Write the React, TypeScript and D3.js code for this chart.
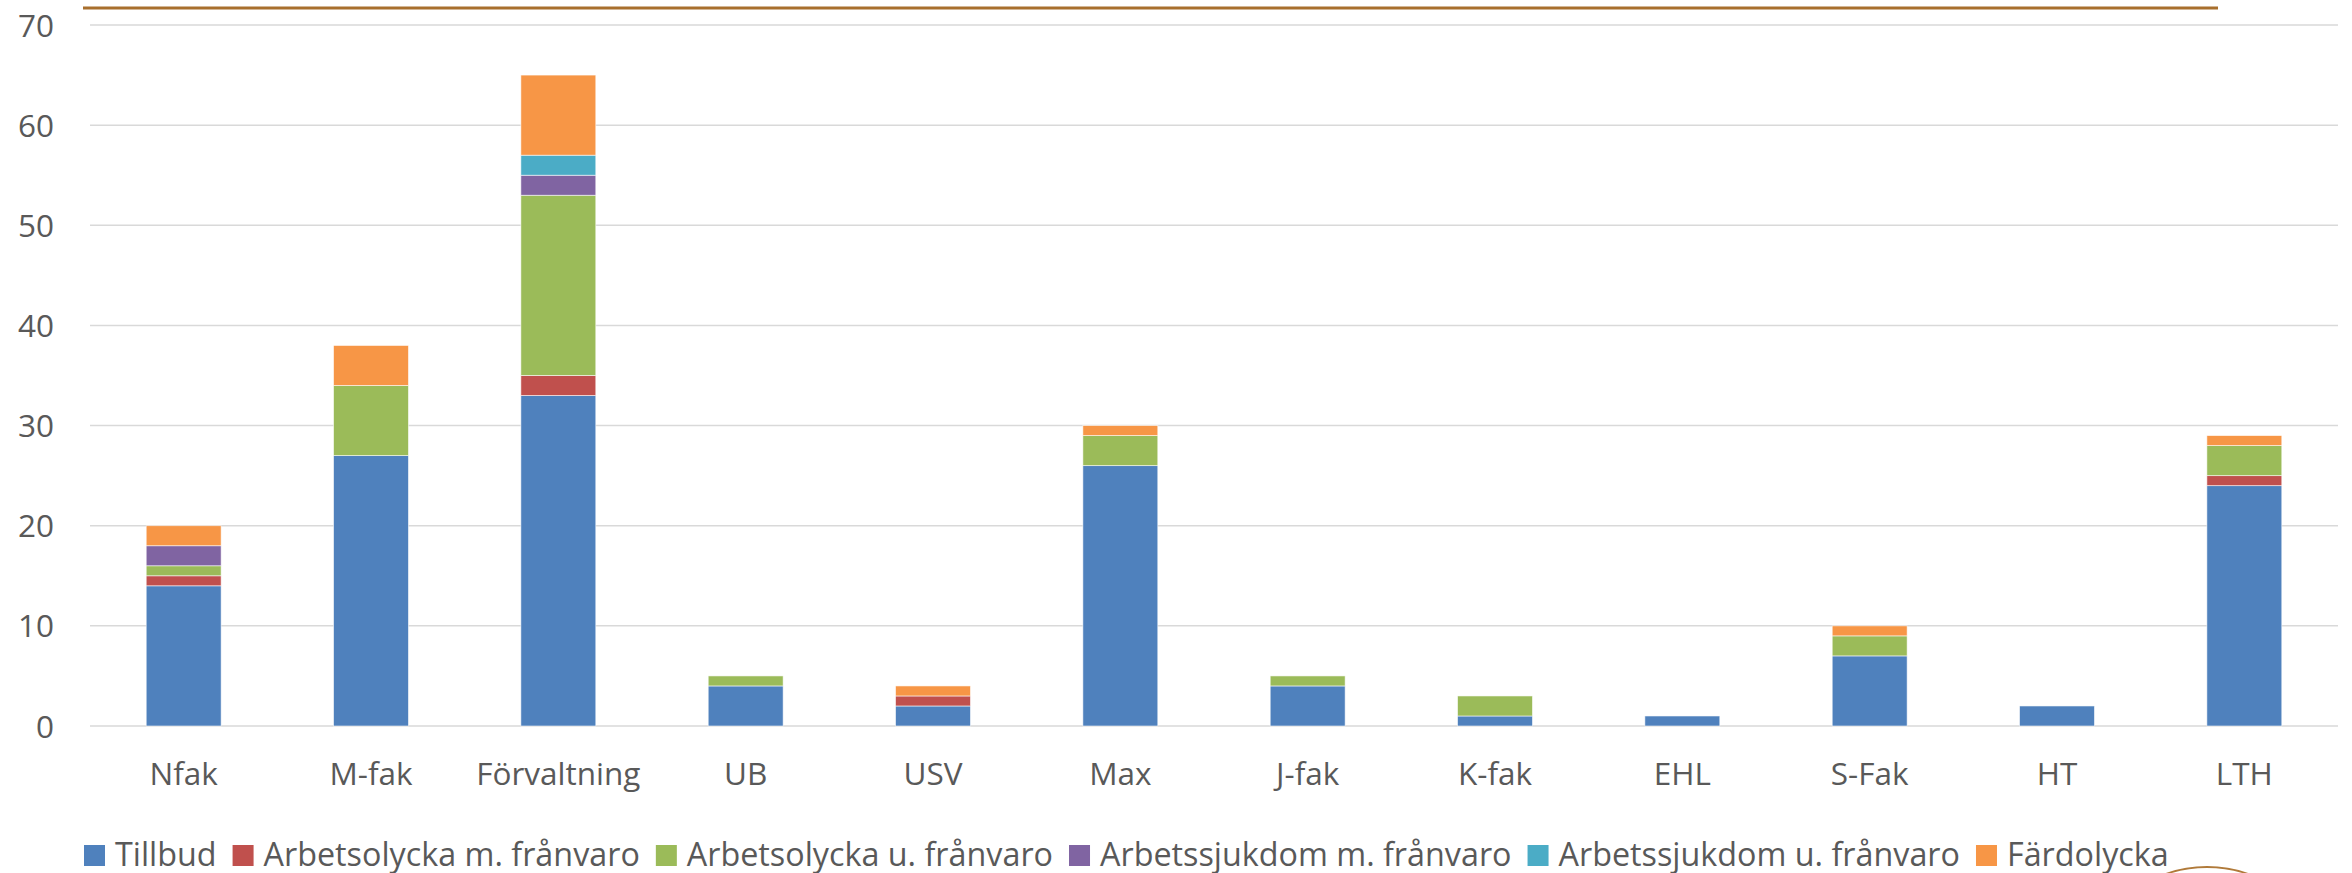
import React, { useRef, useEffect } from "react";
import * as d3 from "d3";

const categories = ["Nfak", "M-fak", "Förvaltning", "UB", "USV", "Max", "J-fak", "K-fak", "EHL", "S-Fak", "HT", "LTH"];
const seriesNames = [
  "Tillbud",
  "Arbetsolycka m. frånvaro",
  "Arbetsolycka u. frånvaro",
  "Arbetssjukdom m. frånvaro",
  "Arbetssjukdom u. frånvaro",
  "Färdolycka",
];
const tillbud = [14, 27, 33, 4, 2, 26, 4, 1, 1, 7, 2, 24];
const arbOlyckaM = [1, 0, 2, 0, 1, 0, 0, 0, 0, 0, 0, 1];
const arbOlyckaU = [1, 7, 18, 1, 0, 3, 1, 2, 0, 2, 0, 3];
const arbSjukM = [2, 0, 2, 0, 0, 0, 0, 0, 0, 0, 0, 0];
const arbSjukU = [0, 0, 2, 0, 0, 0, 0, 0, 0, 0, 0, 0];
const fardolycka = [2, 4, 8, 0, 1, 1, 0, 0, 0, 1, 0, 1];
const yTicks = [0, 10, 20, 30, 40, 50, 60, 70];

const colors = ["#4f81bd", "#c0504d", "#9bbb59", "#8064a2", "#4bacc6", "#f79646"];

const App: React.FC = () => {
  const ref = useRef<SVGSVGElement | null>(null);

  useEffect(() => {
    document.body.style.margin = "0";
    if (!ref.current) return;
    const svg = d3.select(ref.current);
    svg.selectAll("*").remove();

    const width = 2352;
    const height = 873;
    const font = "'Open Sans', sans-serif";
    const fs = 31.5;
    const textColor = "#595959";

    svg.attr("width", width).attr("height", height).style("display", "block");

    const allSeries = [tillbud, arbOlyckaM, arbOlyckaU, arbSjukM, arbSjukU, fardolycka];
    const rows = categories.map((c, i) => {
      const r: Record<string, any> = { category: c };
      seriesNames.forEach((s, j) => (r[s] = allSeries[j][i]));
      return r;
    });
    const stacked = d3.stack<Record<string, any>>().keys(seriesNames)(rows);

    const x = d3.scaleBand().domain(categories).range([90, 2338]).paddingInner(0.6).paddingOuter(0.3);
    const y = d3.scaleLinear().domain([0, 70]).range([726, 25]);

    // top decorative line
    svg.append("line")
      .attr("x1", 83).attr("x2", 2218).attr("y1", 8).attr("y2", 8)
      .attr("stroke", "#a86f2d").attr("stroke-width", 3);

    // gridlines
    svg.append("g").selectAll("line").data(yTicks).enter().append("line")
      .attr("x1", 90).attr("x2", 2338)
      .attr("y1", (d) => y(d)).attr("y2", (d) => y(d))
      .attr("stroke", "#d9d9d9").attr("stroke-width", 1.5);

    // y tick labels
    svg.append("g").selectAll("text").data(yTicks).enter().append("text")
      .attr("x", 54).attr("y", (d) => y(d) + 11.5)
      .attr("text-anchor", "end")
      .attr("font-family", font).attr("font-size", fs).attr("fill", textColor)
      .text((d) => d);

    // bars
    svg.append("g").selectAll("g").data(stacked).enter().append("g")
      .attr("fill", (_, i) => colors[i])
      .selectAll("rect")
      .data((d) => d.filter((p) => p[1] - p[0] > 0))
      .enter().append("rect")
      .attr("x", (d) => x(d.data.category as string)!)
      .attr("width", x.bandwidth())
      .attr("y", (d) => y(d[1]))
      .attr("height", (d) => y(d[0]) - y(d[1]))
      .attr("stroke", "#ffffff").attr("stroke-width", 0.8).attr("stroke-opacity", 0.7);

    // x labels
    svg.append("g").selectAll("text").data(categories).enter().append("text")
      .attr("x", (d) => x(d)! + x.bandwidth() / 2).attr("y", 785)
      .attr("text-anchor", "middle")
      .attr("font-family", font).attr("font-size", fs).attr("fill", textColor)
      .text((d) => d);

    // legend
    const legend = svg.append("g");
    const legendFs = 32.3;
    let lx = 84;
    seriesNames.forEach((name, i) => {
      legend.append("rect")
        .attr("x", lx).attr("y", 845).attr("width", 21).attr("height", 21)
        .attr("fill", colors[i]);
      const t = legend.append("text")
        .attr("x", lx + 31).attr("y", 866)
        .attr("font-family", font).attr("font-size", legendFs).attr("fill", textColor)
        .text(name);
      const w = (t.node() as SVGTextElement).getComputedTextLength();
      lx += 31 + w + 16;
    });

    // partial seal in the corner
    svg.append("circle")
      .attr("cx", 2207).attr("cy", 867 + 125).attr("r", 125)
      .attr("fill", "none").attr("stroke", "#b07a3a").attr("stroke-width", 1.8);
  }, []);

  return <svg ref={ref} />;
};

export default App;
